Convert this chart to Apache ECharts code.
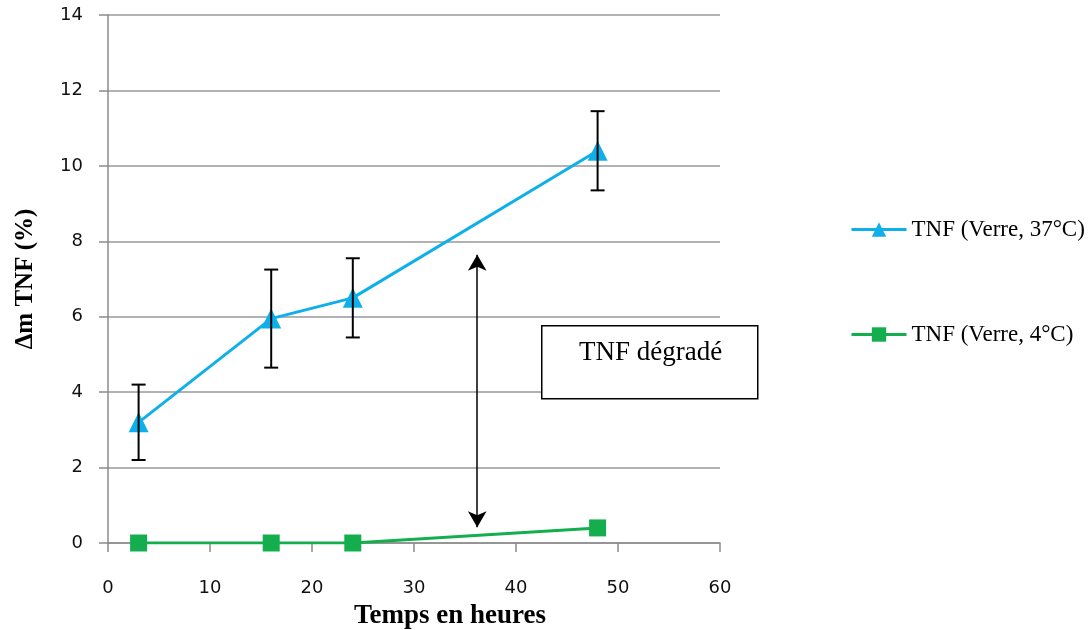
<!DOCTYPE html>
<html><head><meta charset="utf-8">
<script src="https://cdn.jsdelivr.net/npm/echarts@6/dist/echarts.min.js"></script>
<style>html,body{margin:0;padding:0;background:#fff}#c{width:1090px;height:630px}</style>
</head><body><div id="c"></div>
<script>
const hours = [3, 16, 24, 48];
const tnf37 = [3.2, 5.95, 6.5, 10.4];
const tnf37Err = [1.0, 1.3, 1.05, 1.05];
const tnf4 = [0, 0, 0, 0.4];
const seriesNames = ['TNF (Verre, 37°C)', 'TNF (Verre, 4°C)'];
const arrowX = 36.2;
const arrowRange = [0.42, 7.64];
const boxText = 'TNF dégradé';

const chart = echarts.init(document.getElementById('c'));
const errData = hours.map((h, i) => [h, tnf37[i] - tnf37Err[i], tnf37[i] + tnf37Err[i]]);
chart.setOption({
  animation: false,
  grid: {left: 108, right: 370, top: 15, bottom: 87, outerBoundsMode: 'none', containLabel: false},
  xAxis: {
    type: 'value', min: 0, max: 60, interval: 10,
    name: 'Temps en heures', nameLocation: 'middle', nameGap: 60,
    nameTextStyle: {fontFamily: 'Liberation Serif', fontWeight: 'bold', fontSize: 27, color: '#000', padding: [0, 0, 0, 72]},
    axisLine: {lineStyle: {color: '#8c8c8c', width: 1.5}},
    axisTick: {show: true, length: 9, lineStyle: {color: '#8c8c8c', width: 1.5}},
    axisLabel: {fontFamily: 'DejaVu Sans', fontSize: 18, color: '#111', margin: 36},
    splitLine: {show: false}
  },
  yAxis: {
    type: 'value', min: 0, max: 14, interval: 2,
    name: 'Δm TNF (%)', nameLocation: 'middle', nameGap: 70, nameRotate: 90,
    nameTextStyle: {fontFamily: 'Liberation Serif', fontWeight: 'bold', fontSize: 25, color: '#000'},
    axisLine: {show: true, lineStyle: {color: '#8c8c8c', width: 1.5}},
    axisTick: {show: true, length: 9, lineStyle: {color: '#8c8c8c', width: 1.5}},
    axisLabel: {fontFamily: 'DejaVu Sans', fontSize: 18, color: '#111', margin: 25},
    splitLine: {lineStyle: {color: '#999', width: 1.5}}
  },
  legend: {
    orient: 'vertical', left: 845, top: 213, itemGap: 82,
    itemWidth: 55, itemHeight: 18,
    lineStyle: {width: 3},
    textStyle: {fontFamily: 'Liberation Serif', fontSize: 23, color: '#000'},
    data: seriesNames
  },
  series: [
    {
      name: seriesNames[0], type: 'line',
      data: hours.map((h, i) => [h, tnf37[i]]),
      symbol: 'triangle', symbolSize: 20,
      lineStyle: {color: '#0fb0ea', width: 3},
      itemStyle: {color: '#0fb0ea'}, z: 3
    },
    {
      name: seriesNames[1], type: 'line',
      data: hours.map((h, i) => [h, tnf4[i]]),
      symbol: 'rect', symbolSize: 17,
      lineStyle: {color: '#14ae4f', width: 3},
      itemStyle: {color: '#14ae4f'}, z: 3,
      markLine: {
        silent: true, symbol: ['arrow', 'arrow'], symbolSize: [14, 16],
        label: {show: false},
        lineStyle: {color: '#000', width: 1.5, type: 'solid'},
        data: [[{coord: [arrowX, arrowRange[0]]}, {coord: [arrowX, arrowRange[1]]}]]
      }
    },
    {
      type: 'custom', data: errData, z: 4,
      renderItem: function (params, api) {
        const x = api.coord([api.value(0), 0])[0];
        const lo = api.coord([0, api.value(1)])[1];
        const hi = api.coord([0, api.value(2)])[1];
        const w = 7;
        const st = {stroke: '#000', lineWidth: 2};
        return {type: 'group', children: [
          {type: 'line', shape: {x1: x, y1: lo, x2: x, y2: hi}, style: st},
          {type: 'line', shape: {x1: x - w, y1: lo, x2: x + w, y2: lo}, style: st},
          {type: 'line', shape: {x1: x - w, y1: hi, x2: x + w, y2: hi}, style: st}
        ]};
      }
    }
  ],
  graphic: [
    {type: 'rect', left: 541, top: 325, z: 10,
     shape: {width: 216, height: 73},
     style: {fill: '#fff', stroke: '#000', lineWidth: 1.5}},
    {type: 'text', left: 579, top: 339, z: 11,
     style: {text: boxText, font: '27px "Liberation Serif"', fill: '#000'}}
  ]
});
</script></body></html>
